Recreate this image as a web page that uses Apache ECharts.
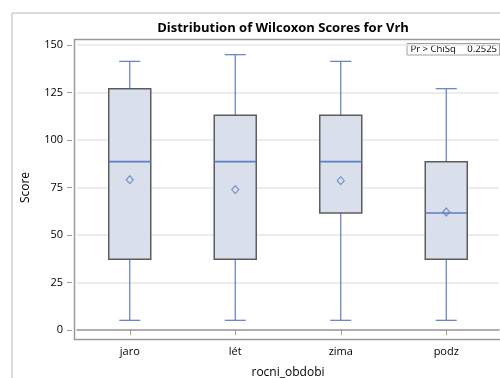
<!DOCTYPE html>
<html><head><meta charset="utf-8">
<script src="https://cdn.jsdelivr.net/npm/echarts@6/dist/echarts.min.js"></script>
<style>html,body{margin:0;padding:0;background:#fff}#c{width:500px;height:378px}</style>
</head><body><div id="c"></div>
<script>
const categories = ['jaro', 'lét', 'zima', 'podz'];
const whiskerLow = [5.1, 5.1, 5.1, 5.1];
const q1 = [37.2, 37.2, 61.6, 37.2];
const median = [88.6, 88.6, 88.6, 61.6];
const q3 = [127, 113, 113, 88.6];
const whiskerHigh = [141.4, 144.9, 141.4, 127];
const means = [79.1, 73.9, 78.6, 62.1];
const yTicks = [0, 25, 50, 75, 100, 125, 150];
const pValueLabel = 'Pr > ChiSq';
const pValue = '0.2525';

const boxData = categories.map((c, i) => [i, whiskerLow[i], q1[i], median[i], q3[i], whiskerHigh[i]]);
const meanData = categories.map((c, i) => [i, means[i]]);

const LINE = '#5f7cc4', BORDER = '#5c5c5c', FILL = '#d9e0ec';

function renderBox(params, api) {
  const idx = api.value(0);
  const pLow = api.coord([idx, api.value(1)]);
  const pQ1 = api.coord([idx, api.value(2)]);
  const pMed = api.coord([idx, api.value(3)]);
  const pQ3 = api.coord([idx, api.value(4)]);
  const pHigh = api.coord([idx, api.value(5)]);
  const x = pLow[0];
  const hw = 21, cw = 10.5;
  const ls = {stroke: LINE, lineWidth: 1.2};
  return {
    type: 'group',
    children: [
      {type: 'line', shape: {x1: x, y1: pLow[1], x2: x, y2: pQ1[1]}, style: ls},
      {type: 'line', shape: {x1: x, y1: pQ3[1], x2: x, y2: pHigh[1]}, style: ls},
      {type: 'line', shape: {x1: x - cw, y1: pLow[1], x2: x + cw, y2: pLow[1]}, style: ls},
      {type: 'line', shape: {x1: x - cw, y1: pHigh[1], x2: x + cw, y2: pHigh[1]}, style: ls},
      {type: 'rect', shape: {x: x - hw, y: pQ3[1], width: hw * 2, height: pQ1[1] - pQ3[1]},
        style: {fill: FILL, stroke: BORDER, lineWidth: 1.5}},
      {type: 'line', shape: {x1: x - hw, y1: pMed[1], x2: x + hw, y2: pMed[1]}, style: {stroke: LINE, lineWidth: 1.6}}
    ]
  };
}

const chart = echarts.init(document.getElementById('c'), null, {renderer: 'canvas'});
chart.setOption({
  animation: false,
  backgroundColor: '#fff',
  title: {
    text: 'Distribution of Wilcoxon Scores for Vrh',
    left: 278, top: 17, textAlign: 'center',
    textStyle: {fontFamily: 'Open Sans', fontWeight: 'bold', fontSize: 13, color: '#000'}
  },
  grid: {left: 77, right: 1, top: 45, bottom: 48, containLabel: false, outerBoundsMode: 'none'},
  xAxis: {
    type: 'category', data: categories, offset: 7,
    name: 'rocni_obdobi', nameLocation: 'middle', nameGap: 30,
    nameTextStyle: {fontFamily: 'Open Sans', fontSize: 12, color: '#000'},
    axisLine: {show: true, lineStyle: {color: '#9a9a9a', width: 1.5}},
    axisTick: {show: true, alignWithLabel: true, length: 5, lineStyle: {color: '#9a9a9a'}},
    axisLabel: {fontFamily: 'Open Sans', fontSize: 11, color: '#000', margin: 9},
    splitLine: {show: false}
  },
  yAxis: {
    type: 'value', min: 0, max: 150, interval: 25, offset: 5,
    name: 'Score', nameLocation: 'middle', nameGap: 40, nameRotate: 90,
    nameTextStyle: {fontFamily: 'Open Sans', fontSize: 12, color: '#000'},
    axisLine: {show: false},
    axisTick: {show: true, length: 5, lineStyle: {color: '#9a9a9a'}},
    axisLabel: {fontFamily: 'Open Sans', fontSize: 11, color: '#000', margin: 9,
      formatter: v => yTicks.includes(v) ? String(v) : ''},
    splitLine: {show: true, lineStyle: {color: '#e6e6e6', width: 1.5}}
  },
  graphic: [
    {type: 'rect', left: 9.5, top: 10.5, shape: {width: 600, height: 500}, style: {fill: 'none', stroke: '#b5b5b5', lineWidth: 1}, silent: true, z: -1},
    {type: 'rect', left: 72, top: 37, shape: {x: 0, y: 0, width: 440, height: 300}, style: {fill: 'none', stroke: '#9a9a9a', lineWidth: 1.5}, silent: true, z: 10},
    {type: 'group', left: 406.5, top: 43, z: 20, children: [
      {type: 'rect', shape: {x: 0, y: 0, width: 92.5, height: 11.5}, style: {fill: '#fff', stroke: '#a0a0a0', lineWidth: 1}},
      {type: 'text', x: 3.5, y: 6, style: {text: pValueLabel, font: '9.5px "Open Sans"', fill: '#000', verticalAlign: 'middle'}},
      {type: 'text', x: 90, y: 6, style: {text: pValue, font: '9.5px "Open Sans"', fill: '#000', align: 'right', verticalAlign: 'middle'}}
    ]}
  ],
  series: [
    {type: 'custom', renderItem: renderBox, data: boxData, encode: {x: 0, y: [1, 2, 3, 4, 5]}, z: 2, clip: false},
    {type: 'scatter', data: meanData, symbol: 'diamond', symbolSize: [7, 8],
      itemStyle: {color: 'rgba(0,0,0,0)', borderColor: LINE, borderWidth: 1.2}, z: 3}
  ]
});
</script></body></html>
